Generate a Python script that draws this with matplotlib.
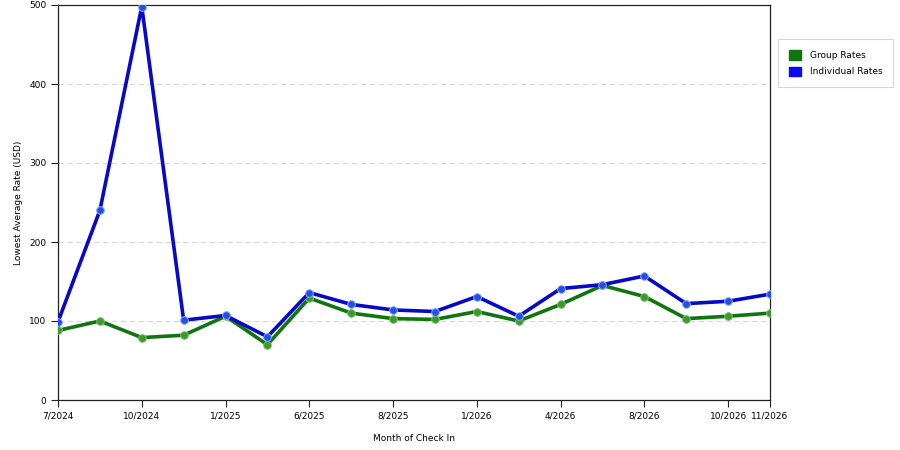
import matplotlib
matplotlib.use("Agg")
import matplotlib.pyplot as plt
from matplotlib.patches import Patch

months = ["7/2024", "8/2024", "10/2024", "11/2024", "1/2025", "3/2025", "6/2025", "7/2025",
          "8/2025", "9/2025", "1/2026", "3/2026", "4/2026", "6/2026", "8/2026", "9/2026",
          "10/2026", "11/2026"]
tick_labels = ["7/2024", "", "10/2024", "", "1/2025", "", "6/2025", "", "8/2025", "",
               "1/2026", "", "4/2026", "", "8/2026", "", "10/2026", "11/2026"]
group_rates = [88, 100, 79, 82, 106, 70, 129, 110, 103, 102, 112, 100, 121, 145, 131, 103, 106, 110]
individual_rates = [99, 240, 498, 101, 107, 80, 136, 121, 114, 112, 131, 106, 141, 146, 157, 122, 125, 134]

plt.rcParams['font.family'] = ['DejaVu Sans']
fig = plt.figure(figsize=(9, 4.5), dpi=100)
ax = fig.add_axes([58/900, 50/450, 712/900, 395/450])

x = list(range(len(months)))
ax.plot(x, group_rates, color="#107510", lw=2.6, marker="o", ms=5.5,
        markerfacecolor="#3a9a2a", markeredgecolor="#80b870", markeredgewidth=0.7, zorder=3)
ax.plot(x, individual_rates, color="#0808c8", lw=2.6, marker="o", ms=5.5,
        markerfacecolor="#2050e8", markeredgecolor="#8aa8f0", markeredgewidth=0.7, zorder=4)

ax.set_xlim(0, len(months) - 1)
ax.set_ylim(0, 500)
ax.set_yticks([0, 100, 200, 300, 400, 500])
ticks_idx = [i for i, t in enumerate(tick_labels) if t]
ax.set_xticks(ticks_idx)
ax.set_xticklabels([tick_labels[i] for i in ticks_idx])
ax.tick_params(axis='both', labelsize=6.5, length=5, width=0.8, color="#222222", direction='out')
ax.tick_params(axis='x', pad=3)
ax.yaxis.grid(True, linestyle=(0, (5, 3)), color="#d8d8d8", lw=0.8)
ax.set_axisbelow(True)
for s in ax.spines.values():
    s.set_color("#222222")
    s.set_linewidth(0.9)

ax.set_xlabel("Month of Check In", fontsize=6.5, labelpad=10)
ax.set_ylabel("Lowest Average Rate (USD)", fontsize=6.5, labelpad=4)

handles = [Patch(facecolor="#107510", edgecolor="#107510"),
           Patch(facecolor="#0a0aee", edgecolor="#0a0aee")]
leg = fig.legend(handles, ["Group Rates", "Individual Rates"], loc="upper left",
                 bbox_to_anchor=(778/900, 1 - 39/450), fontsize=6.5, frameon=True,
                 fancybox=False, edgecolor="#cccccc", handlelength=1.3, handleheight=1.3,
                 borderpad=1.2, labelspacing=0.75, handletextpad=1.0, borderaxespad=0)
leg.get_frame().set_linewidth(0.8)

fig.savefig("out.png", dpi=100)
